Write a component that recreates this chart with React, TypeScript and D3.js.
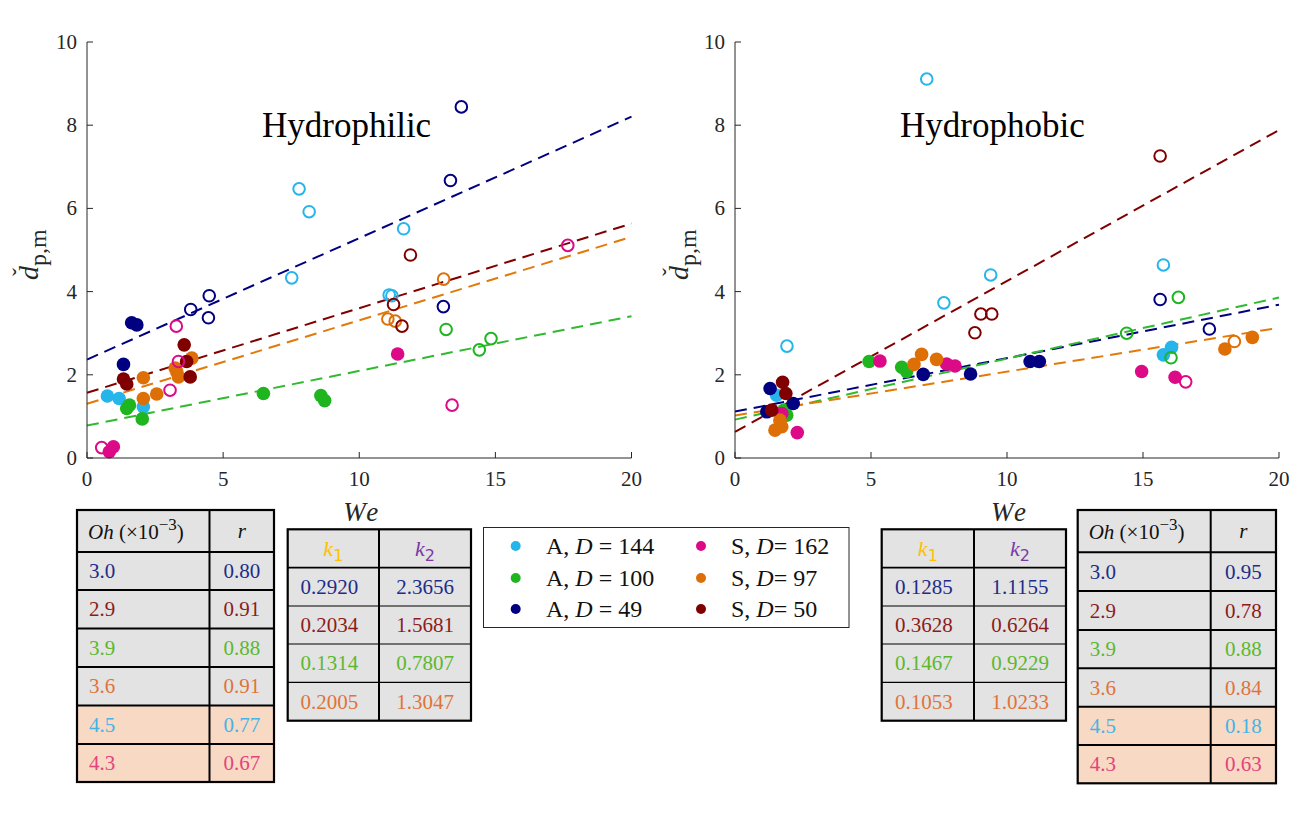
import React from "react";
import * as d3 from "d3";

// ---- data: hydrophilic surface ----
const philicA144Filled = [[0.75, 1.49], [1.18, 1.43], [2.07, 1.23]];
const philicA144Open = [[7.79, 6.47], [8.16, 5.92], [7.52, 4.33], [11.63, 5.51], [11.1, 3.92], [11.2, 3.9]];
const philicA100Filled = [[1.56, 1.27], [1.46, 1.19], [2.03, 0.94], [6.48, 1.55], [8.59, 1.5], [8.73, 1.38]];
const philicA100Open = [[13.19, 3.09], [14.41, 2.6], [14.84, 2.87]];
const philicA49Filled = [[1.64, 3.25], [1.83, 3.2], [1.34, 2.25]];
const philicA49Open = [[3.81, 3.57], [4.49, 3.9], [4.46, 3.37], [13.75, 8.44], [13.35, 6.67], [13.09, 3.64]];
const philicS162Filled = [[0.97, 0.27], [0.82, 0.15], [11.41, 2.5]];
const philicS162Open = [[0.54, 0.25], [3.28, 3.17], [3.05, 1.63], [3.36, 2.32], [13.41, 1.27], [17.66, 5.11]];
const philicS97Filled = [[2.07, 1.93], [2.07, 1.43], [2.56, 1.54], [3.3, 2.07], [3.24, 2.16], [3.36, 1.95], [3.85, 2.4]];
const philicS97Open = [[13.1, 4.3], [11.05, 3.34], [11.32, 3.29]];
const philicS50Filled = [[3.57, 2.72], [3.66, 2.32], [3.79, 1.95], [1.34, 1.9], [1.46, 1.78]];
const philicS50Open = [[11.88, 4.88], [11.26, 3.69], [11.57, 3.17]];

// ---- data: hydrophobic surface ----
const phobicA144Filled = [[1.53, 1.51], [16.05, 2.66], [15.75, 2.48]];
const phobicA144Open = [[7.05, 9.11], [7.68, 3.73], [9.4, 4.4], [15.75, 4.64], [1.91, 2.69]];
const phobicA100Filled = [[4.93, 2.32], [6.13, 2.18], [6.31, 2.08], [1.9, 1.03], [1.8, 1.15]];
const phobicA100Open = [[16.3, 3.86], [14.4, 3.0], [16.03, 2.41]];
const phobicA49Filled = [[6.92, 2.01], [8.66, 2.02], [10.85, 2.32], [11.19, 2.32], [1.29, 1.67], [2.14, 1.31], [1.17, 1.11]];
const phobicA49Open = [[15.63, 3.81], [17.44, 3.1]];
const phobicS162Filled = [[5.33, 2.33], [7.78, 2.26], [8.09, 2.21], [14.95, 2.08], [16.18, 1.94], [2.29, 0.61], [1.72, 1.07]];
const phobicS162Open = [[16.57, 1.83]];
const phobicS97Filled = [[6.86, 2.49], [6.58, 2.25], [7.41, 2.37], [18.01, 2.62], [19.02, 2.9], [1.47, 0.67], [1.72, 0.75], [1.65, 0.91]];
const phobicS97Open = [[18.36, 2.8]];
const phobicS50Filled = [[1.75, 1.82], [1.87, 1.55], [1.35, 1.15]];
const phobicS50Open = [[15.63, 7.26], [8.82, 3.01], [9.04, 3.46], [9.44, 3.46]];

// ---- linear fits d = k1 * We + k2 (order: D=49, D=50, D=100, D=97) ----
const fitSeries = ["A49", "S50", "A100", "S97"];
const k1Philic = [0.292, 0.2034, 0.1314, 0.2005];
const k2Philic = [2.3656, 1.5681, 0.7807, 1.3047];
const k1Phobic = [0.1285, 0.3628, 0.1467, 0.1053];
const k2Phobic = [1.1155, 0.6264, 0.9229, 1.0233];
const k1PhilicText = ["0.2920", "0.2034", "0.1314", "0.2005"];
const k2PhilicText = ["2.3656", "1.5681", "0.7807", "1.3047"];
const k1PhobicText = ["0.1285", "0.3628", "0.1467", "0.1053"];
const k2PhobicText = ["1.1155", "0.6264", "0.9229", "1.0233"];

// ---- Ohnesorge numbers and correlation coefficients ----
const ohValues = ["3.0", "2.9", "3.9", "3.6", "4.5", "4.3"];
const rPhilic = ["0.80", "0.91", "0.88", "0.91", "0.77", "0.67"];
const rPhobic = ["0.95", "0.78", "0.88", "0.84", "0.18", "0.63"];

const xTicks = [0, 5, 10, 15, 20];
const yTicks = [0, 2, 4, 6, 8, 10];

const legendItems = [
  { key: "A144", pre: "A, ", post: " = 144" },
  { key: "A100", pre: "A, ", post: " = 100" },
  { key: "A49", pre: "A, ", post: " = 49" },
  { key: "S162", pre: "S, ", post: "= 162" },
  { key: "S97", pre: "S, ", post: "= 97" },
  { key: "S50", pre: "S, ", post: "= 50" },
];

const markerColor: Record<string, string> = {
  A144: "#25b5ea",
  A100: "#1fb51f",
  A49: "#000080",
  S162: "#dc0a87",
  S97: "#dd6f06",
  S50: "#800000",
};
const lineColor: Record<string, string> = {
  A49: "#000080",
  S50: "#800000",
  A100: "#2fba2f",
  S97: "#e37908",
};
const rowText = ["#1d2d8a", "#8c1c1c", "#5cb82e", "#e0733a", "#44b4e6", "#e4437c"];

const SERIF = "Liberation Serif, Times New Roman, serif";
const AXIS = "#262626";

const philicPoints: Record<string, { filled: number[][]; open: number[][] }> = {
  A144: { filled: philicA144Filled, open: philicA144Open },
  A100: { filled: philicA100Filled, open: philicA100Open },
  A49: { filled: philicA49Filled, open: philicA49Open },
  S162: { filled: philicS162Filled, open: philicS162Open },
  S97: { filled: philicS97Filled, open: philicS97Open },
  S50: { filled: philicS50Filled, open: philicS50Open },
};
const phobicPoints: Record<string, { filled: number[][]; open: number[][] }> = {
  A144: { filled: phobicA144Filled, open: phobicA144Open },
  A100: { filled: phobicA100Filled, open: phobicA100Open },
  A49: { filled: phobicA49Filled, open: phobicA49Open },
  S162: { filled: phobicS162Filled, open: phobicS162Open },
  S97: { filled: phobicS97Filled, open: phobicS97Open },
  S50: { filled: phobicS50Filled, open: phobicS50Open },
};

const yScale = d3.scaleLinear().domain([0, 10]).range([458, 42]);

function Panel(props: {
  x0: number;
  x1: number;
  title: string;
  titleX: number;
  labelX: number;
  points: Record<string, { filled: number[][]; open: number[][] }>;
  k1: number[];
  k2: number[];
}) {
  const x = d3.scaleLinear().domain([0, 20]).range([props.x0, props.x1]);
  const y = yScale;
  const keys = Object.keys(props.points);
  return (
    <g>
      {/* fit lines */}
      {fitSeries.map((s, i) => {
        const f = (w: number) => props.k1[i] * w + props.k2[i];
        const path = d3.line<number>().x((w) => x(w)).y((w) => y(f(w)))([0, 20]);
        return (
          <path
            key={s}
            d={path || ""}
            fill="none"
            stroke={lineColor[s]}
            strokeWidth={2}
            strokeDasharray="12,7"
          />
        );
      })}
      {/* filled markers */}
      {keys.map((k) =>
        props.points[k].filled.map((p, j) => (
          <circle key={k + "f" + j} cx={x(p[0])} cy={y(p[1])} r={6.8} fill={markerColor[k]} />
        ))
      )}
      {/* open markers */}
      {keys.map((k) =>
        props.points[k].open.map((p, j) => (
          <circle
            key={k + "o" + j}
            cx={x(p[0])}
            cy={y(p[1])}
            r={5.8}
            fill="none"
            stroke={markerColor[k]}
            strokeWidth={2}
          />
        ))
      )}
      {/* axes */}
      <line x1={props.x0} x2={props.x0} y1={y(0)} y2={y(10)} stroke={AXIS} strokeWidth={1} />
      <line x1={props.x0} x2={props.x1} y1={y(0)} y2={y(0)} stroke={AXIS} strokeWidth={1} />
      {yTicks.map((t) => (
        <g key={"y" + t}>
          <line x1={props.x0} x2={props.x0 + 6} y1={y(t)} y2={y(t)} stroke={AXIS} />
          <text
            x={props.x0 - 10}
            y={y(t) + 7}
            textAnchor="end"
            fontFamily={SERIF}
            fontSize={21}
            fill={AXIS}
          >
            {t}
          </text>
        </g>
      ))}
      {xTicks.map((t) => (
        <g key={"x" + t}>
          <line x1={x(t)} x2={x(t)} y1={y(0)} y2={y(0) - 6} stroke={AXIS} />
          <text x={x(t)} y={y(0) + 28} textAnchor="middle" fontFamily={SERIF} fontSize={21} fill={AXIS}>
            {t}
          </text>
        </g>
      ))}
      {/* x label */}
      <text
        x={(props.x0 + props.x1) / 2 + 3}
        y={521}
        textAnchor="middle"
        fontFamily={SERIF}
        fontStyle="italic"
        fontSize={27}
        letterSpacing={3}
        fill={AXIS}
      >
        We
      </text>
      {/* y label: d-check with subscript p,m */}
      <g transform={`translate(${props.labelX},${250}) rotate(-90)`}>
        <text x={-30} y={0} fontFamily={SERIF} fontSize={28} fill={AXIS}>
          <tspan fontStyle="italic">d</tspan>
          <tspan dy={8} fontSize={24}>p,m</tspan>
        </text>
        <text x={-26} y={-9} fontFamily={SERIF} fontSize={24} fill={AXIS}>
          ˇ
        </text>
      </g>
      {/* title */}
      <text x={props.titleX} y={137} fontFamily={SERIF} fontSize={35} fill="#000">
        {props.title}
      </text>
    </g>
  );
}

function OhTable(props: { left: number; mid: number; right: number; rows: number[]; r: string[] }) {
  const { left, mid, right, rows } = props;
  const cells = [];
  for (let i = 0; i < rows.length - 1; i++) {
    const top = rows[i];
    const bot = rows[i + 1];
    const bg = i >= 5 ? "#f8d9c4" : "#e3e3e3";
    cells.push(<rect key={"bg" + i} x={left} y={top} width={right - left} height={bot - top} fill={bg} />);
    const cy = (top + bot) / 2 + 7;
    if (i === 0) {
      cells.push(
        <text key="h1" x={left + 11} y={cy + 1} fontFamily={SERIF} fontSize={21} fill="#111">
          <tspan fontStyle="italic">Oh</tspan>
          <tspan> (×10</tspan>
          <tspan dy={-9} fontSize={17}>−3</tspan>
          <tspan dy={9}>)</tspan>
        </text>
      );
      cells.push(
        <text key="h2" x={(mid + right) / 2} y={cy} textAnchor="middle" fontFamily={SERIF} fontStyle="italic" fontSize={21} fill="#111">
          r
        </text>
      );
    } else {
      cells.push(
        <text key={"a" + i} x={left + 12} y={cy} fontFamily={SERIF} fontSize={21} fill={rowText[i - 1]}>
          {ohValues[i - 1]}
        </text>
      );
      cells.push(
        <text key={"b" + i} x={(mid + right) / 2} y={cy} textAnchor="middle" fontFamily={SERIF} fontSize={21} fill={rowText[i - 1]}>
          {props.r[i - 1]}
        </text>
      );
    }
  }
  return (
    <g>
      {cells}
      {rows.slice(1, -1).map((ry, i) => (
        <line key={"h" + i} x1={left} x2={right} y1={ry} y2={ry} stroke="#000" strokeWidth={2} />
      ))}
      <line x1={mid} x2={mid} y1={rows[0]} y2={rows[rows.length - 1]} stroke="#000" strokeWidth={2} />
      <rect x={left} y={rows[0]} width={right - left} height={rows[rows.length - 1] - rows[0]} fill="none" stroke="#000" strokeWidth={2.2} />
    </g>
  );
}

function KTable(props: { left: number; mid: number; right: number; rows: number[]; k1: string[]; k2: string[] }) {
  const { left, mid, right, rows } = props;
  const c1 = (left + mid) / 2;
  const c2 = (mid + right) / 2;
  const hy = (rows[0] + rows[1]) / 2 + 7;
  return (
    <g>
      <rect x={left} y={rows[0]} width={right - left} height={rows[rows.length - 1] - rows[0]} fill="#e3e3e3" />
      <text x={c1} y={hy} textAnchor="middle" fontFamily={SERIF} fontSize={22} fill="#ffc000">
        <tspan fontStyle="italic">k</tspan>
        <tspan dy={5} fontSize={16} fontFamily="DejaVu Sans, sans-serif">1</tspan>
      </text>
      <text x={c2} y={hy} textAnchor="middle" fontFamily={SERIF} fontSize={22} fill="#7a3aa8">
        <tspan fontStyle="italic">k</tspan>
        <tspan dy={5} fontSize={16} fontFamily="DejaVu Sans, sans-serif">2</tspan>
      </text>
      {props.k1.map((v, i) => {
        const cy = (rows[i + 1] + rows[i + 2]) / 2 + 7;
        return (
          <g key={i}>
            <text x={c1 - 4} y={cy} textAnchor="middle" fontFamily={SERIF} fontSize={21} fill={rowText[i]}>
              {v}
            </text>
            <text x={c2} y={cy} textAnchor="middle" fontFamily={SERIF} fontSize={21} fill={rowText[i]}>
              {props.k2[i]}
            </text>
          </g>
        );
      })}
      {rows.slice(1, -1).map((ry, i) => (
        <line key={"h" + i} x1={left} x2={right} y1={ry} y2={ry} stroke="#000" strokeWidth={i === 0 ? 1.8 : 1.2} />
      ))}
      <line x1={mid} x2={mid} y1={rows[0]} y2={rows[rows.length - 1]} stroke="#000" strokeWidth={2} />
      <rect x={left} y={rows[0]} width={right - left} height={rows[rows.length - 1] - rows[0]} fill="none" stroke="#000" strokeWidth={2.2} />
    </g>
  );
}

function Legend() {
  const rowsY = [546, 578, 609];
  return (
    <g>
      <rect x={483.5} y={527.5} width={365.5} height={100} fill="#fff" stroke="#262626" strokeWidth={1} />
      {legendItems.map((it, i) => {
        const col = Math.floor(i / 3);
        const row = i % 3;
        const mx = col === 0 ? 515.7 : 701;
        const tx = col === 0 ? 546 : 731;
        const cy = rowsY[row];
        return (
          <g key={it.key}>
            <circle cx={mx} cy={cy} r={5} fill={markerColor[it.key]} />
            <text x={tx} y={cy + 8} fontFamily={SERIF} fontSize={24} fill="#111">
              <tspan>{it.pre}</tspan>
              <tspan fontStyle="italic">D</tspan>
              <tspan>{it.post}</tspan>
            </text>
          </g>
        );
      })}
    </g>
  );
}

export default function App() {
  const ohRows = [510, 552, 590, 628.5, 667, 705.5, 744, 782];
  const ohRowsR = [510, 552.3, 591, 630, 668.3, 706.7, 745, 783.3];
  const kRows = [529.3, 567.7, 606, 644, 682.3, 720.7];
  return (
    <svg
      width={1309}
      height={825}
      style={{ position: "absolute", left: 0, top: 0, background: "#fff" }}
    >
      <rect x={0} y={0} width={1309} height={825} fill="#fff" />
      <Panel
        x0={87}
        x1={631.5}
        title="Hydrophilic"
        titleX={262}
        labelX={38}
        points={philicPoints}
        k1={k1Philic}
        k2={k2Philic}
      />
      <Panel
        x0={735}
        x1={1279}
        title="Hydrophobic"
        titleX={900}
        labelX={688}
        points={phobicPoints}
        k1={k1Phobic}
        k2={k2Phobic}
      />
      <OhTable left={77} mid={209.5} right={274} rows={ohRows} r={rPhilic} />
      <KTable left={287.7} mid={379} right={471} rows={kRows} k1={k1PhilicText} k2={k2PhilicText} />
      <Legend />
      <KTable left={881.7} mid={974} right={1066} rows={kRows} k1={k1PhobicText} k2={k2PhobicText} />
      <OhTable left={1077.7} mid={1210.7} right={1276} rows={ohRowsR} r={rPhobic} />
    </svg>
  );
}
